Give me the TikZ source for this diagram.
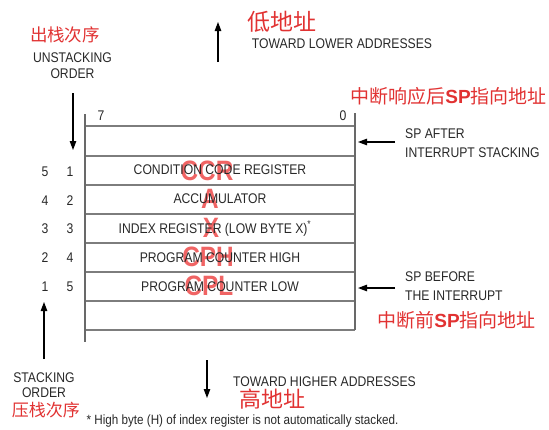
\documentclass[tikz,border=0pt]{standalone}
\usepackage{fontspec}
\setmainfont{Liberation Sans}[FakeStretch=0.87]
\newfontfamily\cjk{Noto Sans CJK SC}
\newfontfamily\spfont{Liberation Sans}
\usetikzlibrary{arrows.meta}
\definecolor{ink}{RGB}{40,40,40}
\definecolor{cnred}{RGB}{225,50,50}
\definecolor{ovred}{RGB}{240,100,100}
\definecolor{boxgray}{RGB}{105,105,105}
\definecolor{rulegray}{RGB}{125,125,125}
\tikzset{
  txt/.style={font=\fontsize{14}{16}\selectfont, text=ink, inner sep=0pt, anchor=base},
  txtw/.style={txt, anchor=base west},
  cn/.style={font=\fontsize{#1}{#1}\selectfont\cjk, text=cnred, inner sep=0pt, anchor=base},
  ov/.style={font=\fontsize{28}{28}\selectfont\bfseries, text=ovred, inner sep=0pt, anchor=base},
  arr/.style={-{Triangle[length=9pt,width=6.5pt]}, line width=1.1pt, draw=black},
  vline/.style={line width=1.3pt, draw=boxgray},
  hline/.style={line width=1.6pt, draw=rulegray},
}
\newcommand{\spb}{{\spfont\bfseries SP}}
\begin{document}
\begin{tikzpicture}[x=1pt,y=-1pt]
\useasboundingbox (0,0) rectangle (549,429);
% stack frame
\coordinate (lt) at (85,114);
\coordinate (lb) at (85,342);
\coordinate (rt) at (355,113);
\coordinate (rb) at (355,330);
\foreach \y in {126,156,185,214,243,272,301,330}
  \draw[hline] (85,\y) -- (355,\y);
\draw[vline] (lt) -- (lb);
\draw[vline] (rt) -- (rb);
\node[txt] (b7) at (101,120) {7};
\node[txt] (b0) at (343,120) {0};
% overlay labels
\node[ov] (occr) at (207,180) {CCR};
\node[ov] (oa) at (210,208) {A};
\node[ov] (ox) at (211,237.5) {X};
\node[ov] (ocph) at (208,266) {CPH};
\node[ov] (ocpl) at (209,295) {CPL};
% register names
\node[txt] (rccr) at (220,174.7) {CONDITION CODE REGISTER};
\node[txt] (racc) at (220,203.9) {ACCUMULATOR};
\node[txt] (rx) at (215,233) {INDEX REGISTER (LOW BYTE X)\textsuperscript{*}};
\node[txt] (rpch) at (220,262.1) {PROGRAM COUNTER HIGH};
\node[txt] (rpcl) at (220,291.3) {PROGRAM COUNTER LOW};
% order numbers
\foreach \a/\b/\y [count=\i] in {5/1/176,4/2/205,3/3/233,2/4/262,1/5/291}{
  \node[txt] (ua\i) at (45,\y) {\a};
  \node[txt] (sb\i) at (70,\y) {\b};
}
% top
\node[cn=23] (cnlow) at (282,30) {低地址};
\node[txt] (lower) at (342,48.5) {TOWARD LOWER ADDRESSES};
\coordinate (upS) at (218,62);
\coordinate (upT) at (218,22);
\draw[arr] (upS) -- (upT);
% unstacking
\node[cn=17.5] (cnun) at (65,41) {出栈次序};
\node[txt] (unst) at (72.5,62.5) {UNSTACKING};
\node[txt] (unord) at (72.5,78) {ORDER};
\coordinate (unS) at (73,93);
\coordinate (unT) at (73,150);
\draw[arr] (unS) -- (unT);
% SP after
\node[cn=19] (cnafter) at (448.5,103.7) {中断响应后\spb 指向地址};
\node[txtw] (spa1) at (405,138) {SP AFTER};
\node[txtw] (spa2) at (405,157) {INTERRUPT STACKING};
\coordinate (aS) at (395,142);
\coordinate (aT) at (358,142);
\draw[arr] (aS) -- (aT);
% SP before
\node[txtw] (spb1) at (405,281) {SP BEFORE};
\node[txtw] (spb2) at (405,300) {THE INTERRUPT};
\node[cn=19] (cnbefore) at (456.5,327.2) {中断前\spb 指向地址};
\coordinate (bS) at (395,288);
\coordinate (bT) at (358,288);
\draw[arr] (bS) -- (bT);
% stacking
\coordinate (stS) at (44,359);
\coordinate (stT) at (44,302);
\draw[arr] (stS) -- (stT);
\node[txt] (st1) at (44,382.5) {STACKING};
\node[txt] (st2) at (44,397.5) {ORDER};
\node[cn=17] (cnst) at (46,416.5) {压栈次序};
% bottom
\coordinate (dnS) at (207,360);
\coordinate (dnT) at (207,398);
\draw[arr] (dnS) -- (dnT);
\node[txt] (higher) at (324.5,386) {TOWARD HIGHER ADDRESSES};
\node[cn=22] (cnhigh) at (272.5,407.4) {高地址};
\node[txt, font=\fontsize{13.4}{15}\selectfont] (foot) at (242.5,424) {* High byte (H) of index register is not automatically stacked.};
\end{tikzpicture}
\end{document}
